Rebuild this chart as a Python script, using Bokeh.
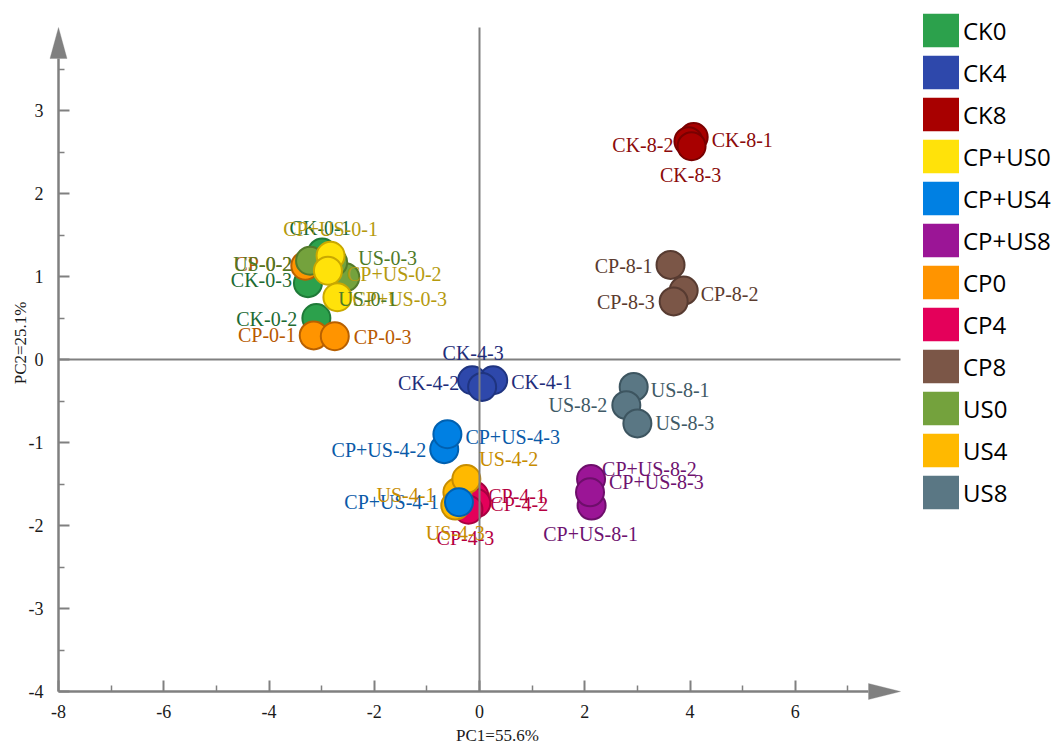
import math
from bokeh.plotting import figure
from bokeh.models import (FixedTicker, Legend, LegendItem, Label,
                          PolyAnnotation, ColumnDataSource)
from bokeh.core.properties import value
from bokeh.embed import file_html
from bokeh.resources import INLINE

# ---------------- data ----------------
groups = ["CK0", "CK4", "CK8", "CP+US0", "CP+US4", "CP+US8",
          "CP0", "CP4", "CP8", "US0", "US4", "US8"]

sample_names = [
    "CK-0-1", "CK-0-2", "CK-0-3",
    "CK-4-1", "CK-4-2", "CK-4-3",
    "CK-8-1", "CK-8-2", "CK-8-3",
    "CP+US-0-1", "CP+US-0-2", "CP+US-0-3",
    "CP+US-4-1", "CP+US-4-2", "CP+US-4-3",
    "CP+US-8-1", "CP+US-8-2", "CP+US-8-3",
    "CP-0-1", "CP-0-2", "CP-0-3",
    "CP-4-1", "CP-4-2", "CP-4-3",
    "CP-8-1", "CP-8-2", "CP-8-3",
    "US-0-1", "US-0-2", "US-0-3",
    "US-4-1", "US-4-2", "US-4-3",
    "US-8-1", "US-8-2", "US-8-3",
]
sample_groups = [g for g in groups for _ in range(3)]

pc1 = [
    -2.99, -3.10, -3.26,
    0.26, -0.14, 0.05,
    4.07, 3.97, 4.03,
    -2.83, -2.88, -2.70,
    -0.39, -0.67, -0.61,
    2.13, 2.12, 2.10,
    -3.15, -3.31, -2.75,
    -0.10, -0.06, -0.21,
    3.63, 3.88, 3.69,
    -2.55, -3.22, -2.78,
    -0.42, -0.25, -0.46,
    2.93, 2.79, 3.00,
]
pc2 = [
    1.29, 0.50, 0.92,
    -0.25, -0.25, -0.33,
    2.68, 2.63, 2.57,
    1.25, 1.07, 0.75,
    -1.72, -1.08, -0.90,
    -1.76, -1.44, -1.60,
    0.29, 1.13, 0.28,
    -1.64, -1.73, -1.81,
    1.14, 0.83, 0.70,
    0.99, 1.19, 1.17,
    -1.60, -1.44, -1.76,
    -0.33, -0.55, -0.77,
]

x_ticks = [-8, -6, -4, -2, 0, 2, 4, 6]
x_minor = [-7, -5, -3, -1, 1, 3, 5, 7]
y_ticks = [-4, -3, -2, -1, 0, 1, 2, 3]
y_minor = [-3.5, -2.5, -1.5, -0.5, 0.5, 1.5, 2.5, 3.5]
x_tick_labels = ["-8", "-6", "-4", "-2", "0", "2", "4", "6"]
y_tick_labels = ["-4", "-3", "-2", "-1", "0", "1", "2", "3"]
x_title = "PC1=55.6%"
y_title = "PC2=25.1%"

# ---------------- styles ----------------
fill = {"CK0": "#2ca14c", "CK4": "#2e48ab", "CK8": "#a80000",
        "CP+US0": "#ffe20a", "CP+US4": "#0080e3", "CP+US8": "#9b1596",
        "CP0": "#ff9400", "CP4": "#e4005a", "CP8": "#7b5647",
        "US0": "#74a23d", "US4": "#ffb900", "US8": "#5a7784"}
edge = {"CK0": "#1f7a38", "CK4": "#1f3480", "CK8": "#7a0000",
        "CP+US0": "#c9a800", "CP+US4": "#0060b0", "CP+US8": "#6e0e6b",
        "CP0": "#b86000", "CP4": "#a80040", "CP8": "#573b31",
        "US0": "#537a2a", "US4": "#c78d00", "US8": "#3d5560"}
text_col = {"CK0": "#1d6b33", "CK4": "#1f2d7a", "CK8": "#8b0a0a",
            "CP+US0": "#b59a0e", "CP+US4": "#0a5aa8", "CP+US8": "#6e1270",
            "CP0": "#b85a00", "CP4": "#b5003f", "CP8": "#5b3b2e",
            "US0": "#4e7a28", "US4": "#c78c00", "US8": "#3f5a66"}
draw_order = ["CK0", "CK4", "CK8", "CP0", "CP4", "CP8",
              "US0", "US4", "US8", "CP+US0", "CP+US4", "CP+US8"]

label_dx = [-2, -19, -16,  18, -13, -9,  18, -15, -1,
            0, 19, 15,  -20, -18, 18,  -1, 11, 19,
            -18, -13, 19,  14, 14, -3,  -18, 17, -19,
            -7, -18, 25,  -22, 13, 0,  17, -19, 18]
label_dy = [-24, 1, -3,  2, 3, -34,  3, 4, 29,
            -27, 3, 2,  0, 1, 3,  28, -10, -10,
            0, -2, 1,  0, 1, 28,  1, 3, 1,
            22, 3, -4,  3, -20, 27,  3, 0, 0]
label_align = ["center", "right", "right", "left", "right", "center",
               "left", "right", "center",
               "center", "left", "left", "right", "right", "left",
               "center", "left", "left",
               "right", "right", "left", "left", "left", "center",
               "right", "left", "right",
               "left", "right", "left", "right", "left", "center",
               "left", "right", "left"]

W, H = 1057, 744
ORIGIN_LEFT, ORIGIN_BOTTOM = 58, 53      # pixel position of (-8, -4)
PX_X, PX_Y = 52.625, 83.0
x0, y0 = x_ticks[0], y_ticks[0]
x_end_axis, y_end_axis = 8, 4
AX = "#808080"
SERIF = "Liberation Serif"

xs0 = x0 - ORIGIN_LEFT / PX_X
ys0 = y0 - ORIGIN_BOTTOM / PX_Y
p = figure(width=W, height=H,
           x_range=(xs0, xs0 + W / PX_X),
           y_range=(ys0, ys0 + H / PX_Y),
           output_backend="svg", toolbar_location=None,
           min_border=0, title=None)
p.outline_line_color = None
p.grid.visible = False
p.background_fill_color = "white"

p.xaxis.fixed_location = y0
p.yaxis.fixed_location = x0
for ax, ticks, minor, labels, bnd in (
        (p.xaxis[0], x_ticks, x_minor, x_tick_labels, (x0, x_end_axis - 32 / PX_X)),
        (p.yaxis[0], y_ticks, y_minor, y_tick_labels, (y0, y_end_axis - 31 / PX_Y))):
    ax.ticker = FixedTicker(ticks=ticks, minor_ticks=minor)
    ax.major_label_overrides = {t: s for t, s in zip(ticks, labels)}
    ax.bounds = bnd
    ax.axis_line_color = AX
    ax.axis_line_width = 2.5
    ax.major_tick_line_color = AX
    ax.major_tick_line_width = 2
    ax.major_tick_in = 11
    ax.major_tick_out = 0
    ax.minor_tick_line_color = AX
    ax.minor_tick_line_width = 1.5
    ax.minor_tick_in = 6
    ax.minor_tick_out = 0
    ax.major_label_text_font = SERIF
    ax.major_label_text_font_size = "18px"
    ax.major_label_text_color = "#1a1a1a"
p.xaxis.major_label_standoff = 13
p.yaxis.major_label_standoff = 15

# arrow heads
p.add_layout(PolyAnnotation(
    xs=[x_end_axis - 32 / PX_X, x_end_axis, x_end_axis - 32 / PX_X],
    ys=[y0 - 8 / PX_Y, y0, y0 + 8 / PX_Y],
    fill_color=AX, fill_alpha=1, line_color=AX, line_width=1))
p.add_layout(PolyAnnotation(
    xs=[x0 - 8.5 / PX_X, x0, x0 + 8.5 / PX_X],
    ys=[y_end_axis - 31 / PX_Y, y_end_axis, y_end_axis - 31 / PX_Y],
    fill_color=AX, fill_alpha=1, line_color=AX, line_width=1))

# points
for g in draw_order:
    idx = [i for i, sg in enumerate(sample_groups) if sg == g]
    p.scatter([pc1[i] for i in idx], [pc2[i] for i in idx], size=28,
              marker="circle", fill_color=fill[g], line_color=edge[g],
              line_width=2)

# centre lines
p.segment(x0=[x0, 0], y0=[0, y0], x1=[x_end_axis, 0], y1=[0, y_end_axis],
          line_color=AX, line_width=2)

# point labels
for al in ("left", "center", "right"):
    idx = [i for i, a in enumerate(label_align) if a == al]
    src = ColumnDataSource(dict(
        x=[pc1[i] for i in idx], y=[pc2[i] for i in idx],
        text=[sample_names[i] for i in idx],
        color=[text_col[sample_groups[i]] for i in idx],
        dx=[label_dx[i] for i in idx], dy=[label_dy[i] for i in idx]))
    p.text(x="x", y="y", text="text", x_offset="dx", y_offset="dy",
           text_align=al, text_baseline="middle", text_color="color",
           text_font=value(SERIF), text_font_size="20px", source=src)

# axis titles
p.add_layout(Label(x=0.34, y=y0, y_offset=-44, text=x_title,
                   text_align="center", text_baseline="middle",
                   text_font=SERIF, text_font_size="17px", text_color="#1a1a1a"))
p.add_layout(Label(x=x0, y=0.2, x_offset=-38, text=y_title, angle=math.pi / 2,
                   text_align="center", text_baseline="middle",
                   text_font=SERIF, text_font_size="17px", text_color="#1a1a1a"))

# legend (zero-area swatch renderers anchored on each group's first sample)
items = []
for g in groups:
    i = sample_groups.index(g)
    r = p.quad(left=[pc1[i]], right=[pc1[i]], top=[pc2[i]], bottom=[pc2[i]],
               fill_color=fill[g], line_color=None)
    items.append(LegendItem(label=g, renderers=[r]))
ROW = 42
legend = Legend(items=items, location=(918, H - 9 - ROW * len(groups)),
                glyph_width=45, glyph_height=ROW, spacing=0, padding=0,
                margin=0, label_standoff=0, label_text_font="Open Sans",
                label_text_font_size="24px", label_text_color="#000000",
                border_line_color=None, background_fill_alpha=0)
p.add_layout(legend)

open("out.html", "w").write(file_html(p, INLINE))
